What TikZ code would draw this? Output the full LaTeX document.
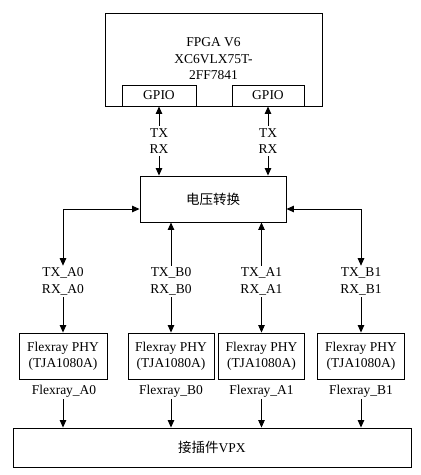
\documentclass[tikz,border=0pt]{standalone}
\usepackage{fontspec}
\setmainfont{Liberation Serif}
\newfontfamily\cjk{Noto Sans CJK SC}
\usetikzlibrary{arrows.meta}
\begin{document}
\begin{tikzpicture}[x=1pt,y=-1pt,
  every node/.style={font=\fontsize{13.5}{16.5}\selectfont},
  box/.style={draw, line width=0.9pt, inner sep=0pt, align=center},
  lbl/.style={align=center, inner sep=2pt},
  arr/.style={-{Triangle[length=7.5pt,width=6.5pt]}, line width=0.9pt},
  dbl/.style={{Triangle[length=7.5pt,width=6.5pt]}-{Triangle[length=7.5pt,width=6.5pt]}, line width=0.9pt}]
\useasboundingbox (0,0) rectangle (421,475);
% FPGA
\node[box, minimum width=217, minimum height=93] (fpga) at (213.5,59.5) {};
\node[lbl] (fpgat) at (213.5,59) {FPGA V6\\XC6VLX75T-\\2FF7841};
\node[box, minimum width=74, minimum height=21] (g1) at (159,95.5) {GPIO};
\node[box, minimum width=72, minimum height=21] (g2) at (268,95.5) {GPIO};
% voltage converter
\node[box, minimum width=146, minimum height=46] (v) at (213,199) {\cjk 电压转换};
\draw[dbl] (g1.south) -- node[lbl, fill=white] (t1) {TX\\RX} (g1.south |- v.north);
\draw[dbl] (g2.south) -- node[lbl, fill=white] (t2) {TX\\RX} (g2.south |- v.north);
% PHY boxes
\node[box, minimum width=88, minimum height=46] (fa0) at (63,356) {Flexray PHY\\(TJA1080A)};
\node[box, minimum width=86, minimum height=46] (fb0) at (171,356) {Flexray PHY\\(TJA1080A)};
\node[box, minimum width=86, minimum height=46] (fa1) at (261.5,356) {Flexray PHY\\(TJA1080A)};
\node[box, minimum width=87, minimum height=46] (fb1) at (361,356) {Flexray PHY\\(TJA1080A)};
% channel labels
\node[lbl] (la0) at (63,281.5) {TX\_A0\\RX\_A0};
\node[lbl] (lb0) at (171,281.5) {TX\_B0\\RX\_B0};
\node[lbl] (la1) at (261.5,281.5) {TX\_A1\\RX\_A1};
\node[lbl] (lb1) at (361,281.5) {TX\_B1\\RX\_B1};
\coordinate (jl) at (63,209);
\coordinate (jr) at (361,209);
\draw[arr] (jl) -- (v.west |- jl);
\draw[arr] (jl) -- (la0.north);
\draw[arr] (la0.south) -- (fa0.north);
\draw[arr] (lb0.north) -- (lb0.north |- v.south);
\draw[arr] (lb0.south) -- (fb0.north);
\draw[arr] (la1.north) -- (la1.north |- v.south);
\draw[arr] (la1.south) -- (fa1.north);
\draw[arr] (jr) -- (v.east |- jr);
\draw[arr] (jr) -- (lb1.north);
\draw[arr] (lb1.south) -- (fb1.north);
% VPX
\node[box, minimum width=398, minimum height=39] (vpx) at (212,447.5) {\cjk 接插件\rmfamily VPX};
\node[lbl] (fla0) at (64,391) {Flexray\_A0};
\node[lbl] (flb0) at (171,391) {Flexray\_B0};
\node[lbl] (fla1) at (261.5,391) {Flexray\_A1};
\node[lbl] (flb1) at (361,391) {Flexray\_B1};
\draw[arr] (fla0.south -| fa0.south) -- (fa0.south |- vpx.north);
\draw[arr] (flb0.south) -- (flb0.south |- vpx.north);
\draw[arr] (fla1.south) -- (fla1.south |- vpx.north);
\draw[arr] (flb1.south) -- (flb1.south |- vpx.north);
\end{tikzpicture}
\end{document}
